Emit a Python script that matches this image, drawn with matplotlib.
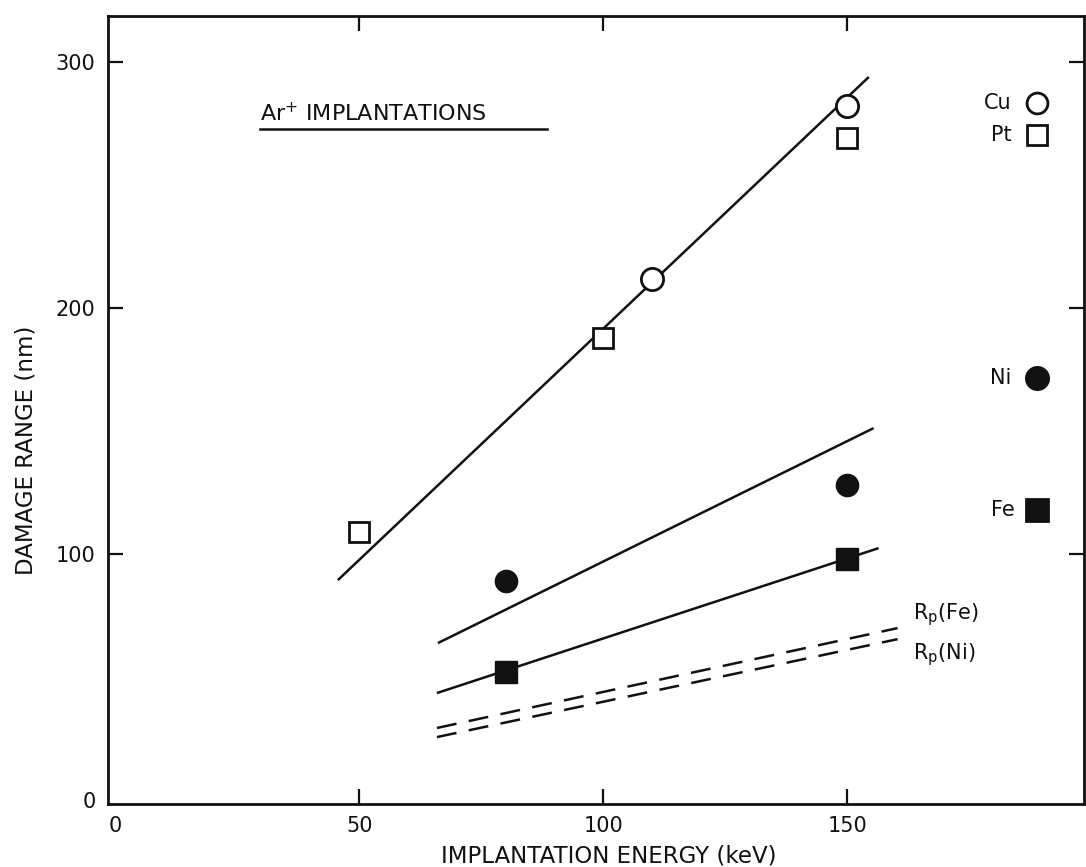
import matplotlib
matplotlib.use("Agg")
import matplotlib.pyplot as plt

# Measured damage ranges (nm) versus Ar+ implantation energy (keV)
pt_energy = [50, 100, 150]
pt_range = [109, 188, 269]
cu_energy = [110, 150]
cu_range = [212, 282]
ni_energy = [80, 150]
ni_range = [89, 128]
fe_energy = [80, 150]
fe_range = [52, 98]

# Straight-line fits drawn through the data
fit_cu_pt_energy = [45.6, 154.4]
fit_cu_pt_range = [89.4, 293.9]
fit_ni_energy = [66.1, 155.4]
fit_ni_range = [63.8, 151.2]
fit_fe_energy = [65.9, 156.4]
fit_fe_range = [43.5, 102.4]

# Projected ranges Rp
rp_energy = [65.9, 160.3]
rp_fe_range = [29.3, 69.9]
rp_ni_range = [25.6, 65.4]

x_ticks = [0, 50, 100, 150]
y_ticks = [0, 100, 200, 300]

ink = "#111111"
plt.rcParams["font.family"] = ["DejaVu Sans"]

fig = plt.figure(figsize=(10.86, 8.67), dpi=100)
ax = fig.add_axes([108 / 1086, 1 - 804 / 867, 976 / 1086, 788 / 867])

line_kw = dict(color=ink, lw=1.8, solid_capstyle="butt")
ax.plot(fit_cu_pt_energy, fit_cu_pt_range, **line_kw)
ax.plot(fit_ni_energy, fit_ni_range, **line_kw)
ax.plot(fit_fe_energy, fit_fe_range, **line_kw)

dash_kw = dict(color=ink, lw=1.8, dashes=(8, 5), dash_capstyle="butt")
ax.plot(rp_energy, rp_fe_range, **dash_kw)
ax.plot(rp_energy, rp_ni_range, **dash_kw)

open_kw = dict(linestyle="none", markerfacecolor="white", markeredgecolor=ink,
               markeredgewidth=2.0, zorder=3)
ax.plot(pt_energy, pt_range, marker="s", markersize=15, **open_kw)
ax.plot(cu_energy, cu_range, marker="o", markersize=16, **open_kw)

fill_kw = dict(linestyle="none", color=ink, zorder=3)
ax.plot(ni_energy, ni_range, marker="o", markersize=16, **fill_kw)
ax.plot(fe_energy, fe_range, marker="s", markersize=16, **fill_kw)

ax.set_xlim(-1.5, 198.5)
ax.set_ylim(-1.6, 318.7)
ax.set_xticks(x_ticks)
ax.set_yticks(y_ticks)
ax.tick_params(direction="in", length=11, width=1.6, pad=9, labelsize=15,
               colors=ink, top=True, right=True)

# The zero ticks sit on the frame itself; keep only their labels
for tick in (ax.xaxis.get_major_ticks()[0], ax.yaxis.get_major_ticks()[0]):
    tick.tick1line.set_visible(False)
    tick.tick2line.set_visible(False)

for side in ax.spines.values():
    side.set_linewidth(2.0)
    side.set_color(ink)

ax.set_xlabel("IMPLANTATION ENERGY (keV)", fontsize=16.5, color=ink)
ax.xaxis.set_label_coords(0.513, -0.052)
ax.set_ylabel("DAMAGE RANGE (nm)", fontsize=16.5, color=ink)
ax.yaxis.set_label_coords(-0.072, 0.449)

# Underlined caption
ax.text(0.156, 0.867, "Ar$^{+}$ IMPLANTATIONS", transform=ax.transAxes,
        fontsize=16, color=ink, ha="left", va="baseline")
ax.plot([0.156, 0.450], [0.857, 0.857], transform=ax.transAxes,
        color=ink, lw=1.8)

# Key: labels with their symbols
key_x = 0.952
keys = [
    ("Cu", "o", "white", 0.890, 0.926),
    ("Pt", "s", "white", 0.849, 0.926),
    ("Ni", "o", ink, 0.541, 0.926),
    ("Fe", "s", ink, 0.373, 0.929),
]
for name, mk, face, ky, lx in keys:
    ax.plot([key_x], [ky], marker=mk, markersize=15 if face == "white" else 16,
            markerfacecolor=face, markeredgecolor=ink, markeredgewidth=2.0,
            linestyle="none", transform=ax.transAxes, clip_on=False)
    ax.text(lx, ky, name, transform=ax.transAxes, fontsize=15, color=ink,
            ha="right", va="center")

ax.text(0.825, 0.240, "R$_\\mathrm{p}$(Fe)", transform=ax.transAxes,
        fontsize=15, color=ink, ha="left", va="center")
ax.text(0.825, 0.189, "R$_\\mathrm{p}$(Ni)", transform=ax.transAxes,
        fontsize=15, color=ink, ha="left", va="center")

fig.savefig("out.png", dpi=100, facecolor="white")
